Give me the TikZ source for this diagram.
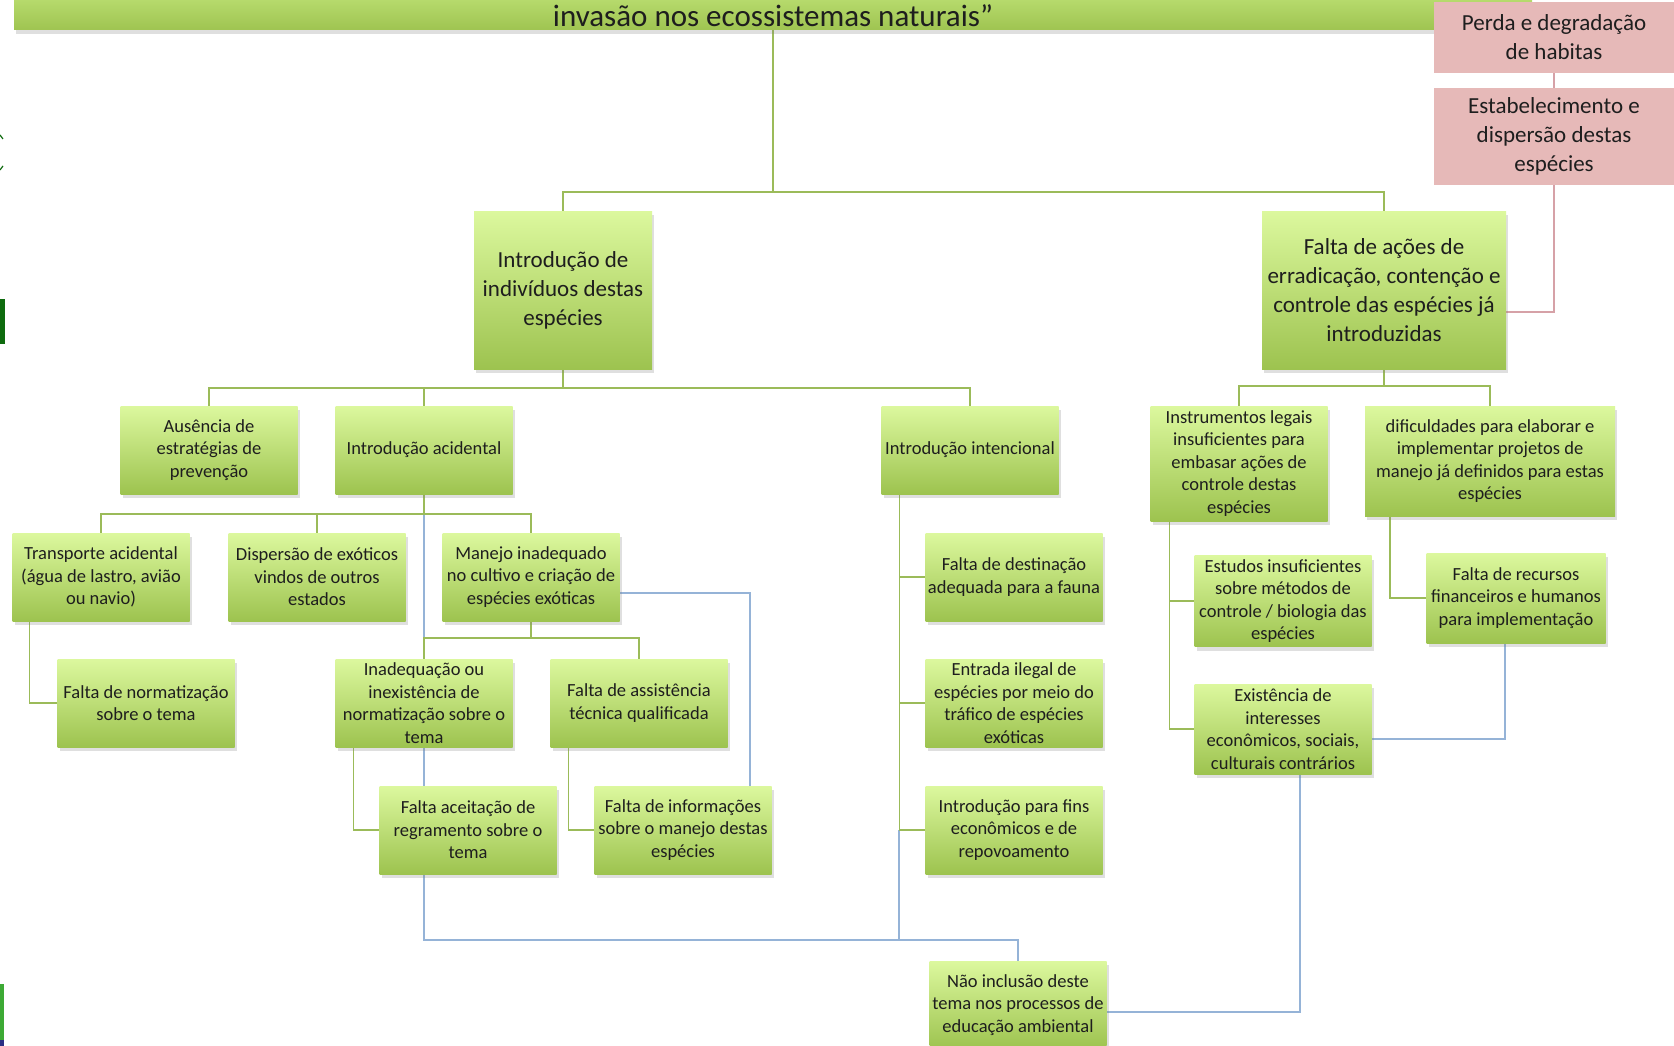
\documentclass[tikz,border=0pt]{standalone}
\usepackage{fontspec}
\setmainfont{Carlito}
\usepackage{xcolor}
\usepackage{tikz}
\usetikzlibrary{calc,shadows,backgrounds}
\definecolor{ink}{HTML}{1E1E1E}
\definecolor{leaftop}{HTML}{DCF89E}
\definecolor{leafbot}{HTML}{9DC34F}
\definecolor{bartop}{HTML}{B6DA6C}
\definecolor{barbot}{HTML}{9FC451}
\definecolor{olive}{HTML}{9BBB59}
\definecolor{sky}{HTML}{95B3D7}
\definecolor{rose}{HTML}{E6B9B8}
\definecolor{roseline}{HTML}{D6A1A7}
\definecolor{forest}{HTML}{0E6B0E}
\definecolor{grass}{HTML}{3DAA35}
\definecolor{navy}{HTML}{2B2E83}
\newcommand\smallfs{\fontsize{18.5}{22.5}\selectfont}
\newcommand\bigfs{\fontsize{23}{29}\selectfont}
\tikzset{
  leaf/.style={top color=leaftop, bottom color=leafbot, text=ink, align=center,
    inner xsep=2pt, inner ysep=0pt, font=\smallfs, minimum width=177pt, minimum height=88pt,
    drop shadow={shadow xshift=2pt, shadow yshift=-4pt, opacity=.25}},
  bigleaf/.style={leaf, font=\bigfs, minimum height=158pt},
  rosebox/.style={fill=rose, text=ink, align=center, font=\bigfs, inner sep=0pt, minimum width=240pt},
  bar/.style={top color=bartop, bottom color=barbot, text=ink, font=\fontsize{31}{36}\selectfont,
    minimum width=1518pt, minimum height=30pt, text height=27pt, text depth=3pt, inner ysep=0pt,
    drop shadow={shadow xshift=2pt, shadow yshift=-4pt, opacity=.25}},
  gline/.style={draw=olive, line width=1.6pt},
  bline/.style={draw=sky, line width=1.8pt},
  pline/.style={draw=roseline, line width=2.6pt},
}

\begin{document}
\begin{tikzpicture}[x=1pt, y=-1pt]
  \useasboundingbox (0,0) rectangle (1674,1046);
  \node[bar, anchor=south] (title) at (773,30) {invasão nos ecossistemas naturais”};
  \node[rosebox, minimum height=71pt] (perda) at (1554,37.5) {Perda e degradação\\de habitas};
  \node[rosebox, minimum height=97pt] (estab) at (1554,136.5) {Estabelecimento e\\dispersão destas\\espécies};
  \node[bigleaf, minimum width=178pt] (indiv) at (563,290) {Introdução de\\indivíduos destas\\espécies};
  \node[bigleaf, minimum width=244pt] (acoes) at (1384,290) {Falta de ações de\\erradicação, contenção e\\controle das espécies já\\introduzidas};
  \node[leaf] (ausencia) at (209,450) {Ausência de\\estratégias de\\prevenção};
  \node[leaf] (acidental) at (424,450) {Introdução acidental};
  \node[leaf] (intencional) at (970,450) {Introdução intencional};
  \node[leaf, minimum height=115pt] (instrumentos) at (1239,463.5) {Instrumentos legais\\insuficientes para\\embasar ações de\\controle destas\\espécies};
  \node[leaf, minimum width=250pt, minimum height=110pt] (dificuldades) at (1490,461) {dificuldades para elaborar e\\implementar projetos de\\manejo já definidos para estas\\espécies};
  \node[leaf] (transporte) at (101,577) {Transporte acidental\\(água de lastro, avião\\ou navio)};
  \node[leaf] (dispersao) at (317,577) {Dispersão de exóticos\\vindos de outros\\estados};
  \node[leaf] (manejo) at (531,577) {Manejo inadequado\\no cultivo e criação de\\espécies exóticas};
  \node[leaf] (normatiz) at (146,703) {Falta de normatização\\sobre o tema};
  \node[leaf] (inadequacao) at (424,703) {Inadequação ou\\inexistência de\\normatização sobre o\\tema};
  \node[leaf] (assistencia) at (639,703) {Falta de assistência\\técnica qualificada};
  \node[leaf] (aceitacao) at (468,830) {Falta aceitação de\\regramento sobre o\\tema};
  \node[leaf] (informacoes) at (683,830) {Falta de informações\\sobre o manejo destas\\espécies};
  \node[leaf] (destinacao) at (1014,577) {Falta de destinação\\adequada para a fauna};
  \node[leaf] (entrada) at (1014,703) {Entrada ilegal de\\espécies por meio do\\tráfico de espécies\\exóticas};
  \node[leaf] (fins) at (1014,830) {Introdução para fins\\econômicos e de\\repovoamento};
  \node[leaf, minimum height=91pt] (estudos) at (1283,601) {Estudos insuficientes\\sobre métodos de\\controle / biologia das\\espécies};
  \node[leaf, minimum height=90pt] (existencia) at (1283,729) {Existência de\\interesses\\econômicos, sociais,\\culturais contrários};
  \node[leaf, minimum width=179pt, minimum height=90pt] (recursos) at (1516,598) {Falta de recursos\\financeiros e humanos\\para implementação};
  \node[leaf] (naoinclusao) at (1018,1005) {Não inclusão deste\\tema nos processos de\\educação ambiental};
  \fill[forest] (0,299) rectangle (5,344);
  \fill[grass] (0,984) rectangle (4,1040);
  \fill[navy] (0,1040) rectangle (4,1046);
  \draw[forest, line width=1.2pt] (0,135) -- (3,139);
  \draw[forest, line width=1.2pt] (0,170) -- (3,166);
  \begin{scope}[on background layer]
    \fill[white] (0,0) rectangle (1674,1046);
    \coordinate (jAcid) at ($(acidental.south)+(0,20)$);
    \coordinate (jFins) at ([xshift=18pt]intencional.south west |- fins.west);
    \draw[bline] (jAcid) -- ++(0,426) -| (naoinclusao.north);
    \draw[bline] (jFins) -- ++(0,110);
    \draw[bline] ([yshift=-16pt]manejo.east) -| ([xshift=-22pt]informacoes.north east);
    \draw[bline] ([yshift=-10pt]existencia.east) -| ([xshift=-11pt]recursos.south);
    \draw[bline] ([xshift=17pt]existencia.south) |- ([yshift=-7pt]naoinclusao.east);
    \draw[gline] (title.south) -- ++(0,162) coordinate (jTop);
    \draw[gline] (indiv.north) |- (jTop) -| (acoes.north);
    \draw[gline] (indiv.south) -- ++(0,19) coordinate (jIndiv);
    \draw[gline] (ausencia.north) |- (jIndiv) -| (intencional.north);
    \draw[gline] (acidental.north) -- (acidental.north |- jIndiv);
    \draw[gline] (acoes.south) -- ++(0,17) coordinate (jAcoes);
    \draw[gline] (instrumentos.north) |- (jAcoes) -| (dificuldades.north);
    \draw[gline] (acidental.south) -- (jAcid);
    \draw[gline] (transporte.north) |- (jAcid) -| (manejo.north);
    \draw[gline] (dispersao.north) -- (dispersao.north |- jAcid);
    \draw[gline] (manejo.south) -- ++(0,17) coordinate (jMan);
    \draw[gline] (inadequacao.north) |- (jMan) -| (assistencia.north);
    \draw[gline] ([xshift=17pt]transporte.south west) |- (normatiz.west);
    \draw[gline] ([xshift=18pt]inadequacao.south west) |- (aceitacao.west);
    \draw[gline] ([xshift=18pt]assistencia.south west) |- (informacoes.west);
    \draw[gline] ([xshift=18pt]intencional.south west) |- (destinacao.west);
    \draw[gline] ([xshift=18pt]intencional.south west) |- (entrada.west);
    \draw[gline] ([xshift=18pt]intencional.south west) |- (fins.west);
    \draw[gline] ([xshift=19pt]instrumentos.south west) |- (estudos.west);
    \draw[gline] ([xshift=19pt]instrumentos.south west) |- (existencia.west);
    \draw[gline] ([xshift=25pt]dificuldades.south west) |- (recursos.west);
    \draw[pline] (perda.south) -- (estab.north);
    \draw[pline] (estab.south) |- ([yshift=-22pt]acoes.east);
  \end{scope}
\end{tikzpicture}
\end{document}
